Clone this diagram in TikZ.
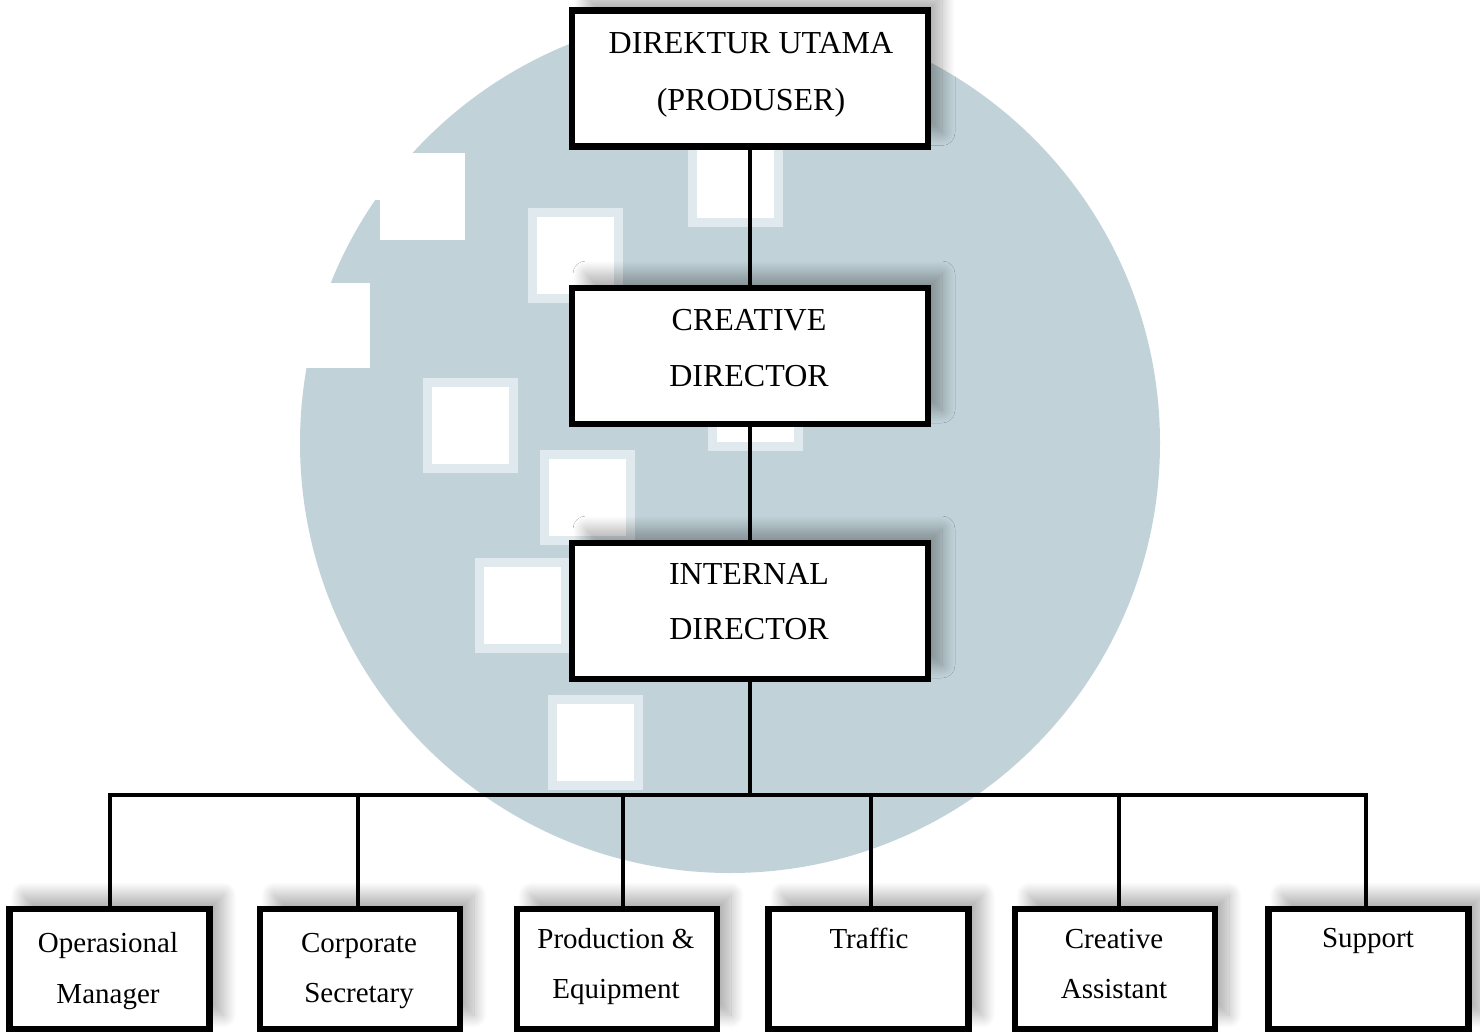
\documentclass[tikz,border=0pt]{standalone}
\usepackage{fontspec}
\setmainfont{Liberation Serif}
\usetikzlibrary{shadows.blur}
\definecolor{wmblue}{RGB}{193,211,217}
\definecolor{wmfringe}{RGB}{224,233,237}
\pgfdeclarelayer{wmlayer}
\pgfdeclarelayer{linelayer}
\pgfsetlayers{wmlayer,linelayer,main}
\begin{document}
\begin{tikzpicture}[x=1pt,y=-1pt,
  box/.style={draw=black, line width=6.5pt, fill=white, rectangle, inner sep=0pt,
    blur shadow={shadow xshift=14pt, shadow yshift=14pt, shadow blur radius=13pt, shadow blur steps=20, shadow opacity=32}},
  bigbox/.style={box, minimum width=356pt, minimum height=136pt},
  smallbox/.style={box, minimum width=200pt, minimum height=120pt},
  bigtxt/.style={inner sep=0pt, anchor=base, font=\fontsize{32}{38}\selectfont},
  smalltxt/.style={inner sep=0pt, anchor=base, font=\fontsize{29}{35}\selectfont},
  conn/.style={line width=3.5pt},
  busline/.style={line width=4pt, line join=miter},
  wsq/.style={fill=wmfringe, draw=none},
  wsqin/.style={fill=white, draw=none}
]
\useasboundingbox (0,0) rectangle (1480,1034);

% boxes
\node[bigbox] (top) at (750,78.5) {};
\node[bigbox] (cre) at (750,356) {};
\node[bigbox] (int) at (750,611) {};
\node[smallbox] (b1) at (109.5,969) {};
\node[smallbox] (b2) at (360,969) {};
\node[smallbox] (b3) at (617,969) {};
\node[smallbox] (b4) at (868.5,969) {};
\node[smallbox] (b5) at (1115,969) {};
\node[smallbox] (b6) at (1368.5,969) {};

% texts
\node[bigtxt] (t1a) at (751,53) {DIREKTUR UTAMA};
\node[bigtxt] (t1b) at (751,110) {(PRODUSER)};
\node[bigtxt] (t2a) at (749,330) {CREATIVE};
\node[bigtxt] (t2b) at (749,386) {DIRECTOR};
\node[bigtxt] (t3a) at (749,584) {INTERNAL};
\node[bigtxt] (t3b) at (749,639) {DIRECTOR};
\node[smalltxt] (s1a) at (108,952) {Operasional};
\node[smalltxt] (s1b) at (108,1003) {Manager};
\node[smalltxt] (s2a) at (359,952) {Corporate};
\node[smalltxt] (s2b) at (359,1002) {Secretary};
\node[smalltxt] (s3a) at (616,948) {Production \&};
\node[smalltxt] (s3b) at (616,998) {Equipment};
\node[smalltxt] (s4a) at (869,948) {Traffic};
\node[smalltxt] (s5a) at (1114,948) {Creative};
\node[smalltxt] (s5b) at (1114,998) {Assistant};
\node[smalltxt] (s6a) at (1368,947) {Support};

% junctions
\coordinate (hub) at (750,795);
\coordinate (j1) at (110,795);
\coordinate (j2) at (358,795);
\coordinate (j3) at (623,795);
\coordinate (j4) at (871,795);
\coordinate (j5) at (1119,795);
\coordinate (j6) at (1366,795);

\begin{pgfonlayer}{linelayer}
\draw[conn] (top.south) -- (cre.north);
\draw[conn] (cre.south) -- (int.north);
\draw[conn] (int.south) -- (hub);
\draw[busline] (j1 |- b1.north) -- (j1) -- (j6) -- (j6 |- b6.north);
\draw[conn] (j2) -- (j2 |- b2.north);
\draw[conn] (j3) -- (j3 |- b3.north);
\draw[conn] (j4) -- (j4 |- b4.north);
\draw[conn] (j5) -- (j5 |- b5.north);
\end{pgfonlayer}

% watermark
\begin{pgfonlayer}{wmlayer}
\fill[wmblue] (730,443) circle[radius=430];
\fill[white] (380,153) rectangle (465,240);
\fill[white] (290,153) rectangle (380,200);
\fill[white] (290,283) rectangle (370,368);
\foreach \qx/\qy in {688/132, 528/208, 423/378, 540/450, 708/356, 475/558, 548/695}{
  \fill[wsq] (\qx,\qy) rectangle ++(95,95);
  \fill[wsqin] (\qx+9,\qy+9) rectangle ++(77,77);
}
\end{pgfonlayer}
\end{tikzpicture}
\end{document}
